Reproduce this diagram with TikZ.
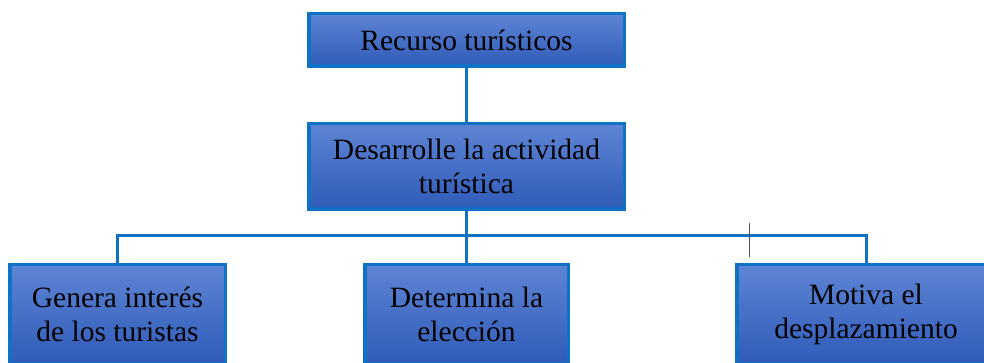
\documentclass[tikz,border=0pt]{standalone}
\usepackage{fontspec}
\setmainfont{Liberation Serif}
\definecolor{boxline}{RGB}{16,114,196}
\definecolor{boxtop}{RGB}{94,132,212}
\definecolor{boxbot}{RGB}{47,91,184}
\begin{document}
\begin{tikzpicture}[x=1pt,y=1pt,
  box/.style={draw=boxline,line width=3.5pt,top color=boxtop,bottom color=boxbot,
    align=center,inner sep=0pt,font=\fontsize{29.5}{33.5}\selectfont},
  link/.style={draw=boxline,line width=3pt}]
\clip (0,0) rectangle (984,363);              % page of the picture
\node[box,minimum width=315.5,minimum height=52.5] (recurso) at (466.5,323) {Recurso turísticos};
\node[box,minimum width=315.5,minimum height=85.5] (actividad) at (466.5,196.5) {Desarrolle la actividad\\turística};
\node[box,minimum width=215.5,minimum height=99.5] (interes) at (117.5,48.5) {Genera interés\\de los turistas};
\node[box,minimum width=203.5,minimum height=99.5] (eleccion) at (466.5,48.5) {Determina la\\elección};
\node[box,minimum width=258.5,minimum height=99.5] (desplaza) at (866,48.5) {Motiva el\\desplazamiento};
\coordinate (bus) at (466.5,127);             % branching point
\draw[link] (recurso) -- (actividad);
\draw[link] (actividad) -- (bus) -- (eleccion);
\draw[link] (interes) |- (bus) -| (desplaza);
\draw[black!70,line width=0.8pt] (749,106) -- (749,140);   % cursor mark
\end{tikzpicture}
\end{document}
